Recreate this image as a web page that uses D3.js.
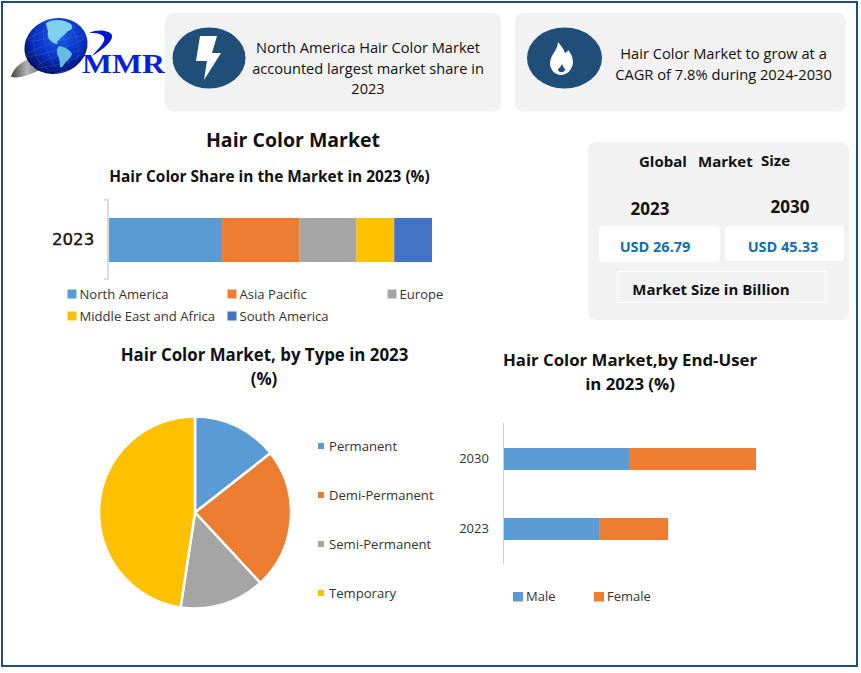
<!DOCTYPE html>
<html><head><meta charset="utf-8">
<script src="https://cdn.jsdelivr.net/npm/d3@7/dist/d3.min.js"></script>
<style>html,body{margin:0;padding:0;background:#fff}svg{display:block}text{font-family:"Open Sans",sans-serif;fill:#111}</style>
</head><body><div id="c"></div>
<script>
const shareYear = ["2023"];
const shareRegions = ["North America","Asia Pacific","Europe","Middle East and Africa","South America"];
const shareValues = [35,24,17.6,11.7,11.7];
const shareColors = ["#5b9bd5","#ed7d31","#a5a5a5","#ffc000","#4472c4"];
const typeNames = ["Permanent","Demi-Permanent","Semi-Permanent","Temporary"];
const typeValues = [14.4,23.7,14.3,47.6];
const typeColors = ["#5b9bd5","#ed7d31","#a5a5a5","#ffc000"];
const endYears = ["2030","2023"];
const endMale = [25,19.2];
const endFemale = [25.3,13.6];
const endSeries = ["Male","Female"];
const endColors = ["#5b9bd5","#ed7d31"];

const svg = d3.select("#c").append("svg").attr("width",861).attr("height",673);
const T=(x,y,s,size,o={})=>svg.append("text").attr("x",x).attr("y",y).text(s)
  .attr("font-size",size).attr("text-anchor",o.a||"start").attr("font-weight",o.w||400)
  .style("fill",o.c||"#111").style("font-family",o.f||null);
const R=(x,y,w,h,f,r=0)=>svg.append("rect").attr("x",x).attr("y",y).attr("width",w).attr("height",h).attr("fill",f).attr("rx",r);

svg.append("rect").attr("x",2).attr("y",2).attr("width",855).attr("height",664).attr("fill","#fff").attr("stroke","#1f4e79").attr("stroke-width",2);

// logo
const defs=svg.append("defs");
const g=defs.append("radialGradient").attr("id","gl").attr("cx","0.6").attr("cy","0.35").attr("r","0.72");
g.append("stop").attr("offset","0").attr("stop-color","#1c5fe8");
g.append("stop").attr("offset","0.55").attr("stop-color","#0a2fc4");
g.append("stop").attr("offset","1").attr("stop-color","#020a40");
const sw=defs.append("linearGradient").attr("id","sw").attr("x1","0").attr("x2","1");
sw.append("stop").attr("offset","0").attr("stop-color","#444");
sw.append("stop").attr("offset","0.55").attr("stop-color","#b5b5b5");
sw.append("stop").attr("offset","1").attr("stop-color","#777");
svg.append("path").attr("d","M11 77 C13 68 22 61 33 57 C29 64 31 68 40 70 C31 74 20 79 11 77Z").attr("fill","url(#sw)");
svg.append("ellipse").attr("cx",56).attr("cy",46).attr("rx",32).attr("ry",27.5).attr("fill","url(#gl)").attr("transform","rotate(-18 56 46)");
const grid=svg.append("g").attr("fill","none").attr("stroke","#3f7be8").attr("stroke-width",0.5).attr("opacity",0.6);
[10,22].forEach(r=>grid.append("ellipse").attr("cx",56).attr("cy",46).attr("rx",r).attr("ry",27).attr("transform","rotate(-18 56 46)"));
[-14,0,14].forEach(d=>grid.append("ellipse").attr("cx",56).attr("cy",46+d).attr("rx",31-Math.abs(d)/2).attr("ry",4).attr("transform","rotate(-18 56 46)"));
svg.append("path").attr("d","M46 23 C52 19 64 19 71 24 C73 27 72 30 68 31 C65 35 62 36 60 39 C58 41 56 41 58 44 C55 44 53 43 51 41 C48 39 47 35 48 31 C47 28 46 26 46 23Z").attr("fill","#7fd0ea");
svg.append("path").attr("d","M59 46 C64 46 70 50 72 54 C71 58 67 60 65 63 C63 66 62 68 60 69 C60 64 60 60 58 56 C56 52 57 48 59 46Z").attr("fill","#63bde0");
svg.append("path").attr("d","M36 68 C52 72 72 66 84 54 C76 68 55 78 36 68Z").attr("fill","#0a1c96");
svg.append("path").attr("d","M89 33 C97 29 109 30 112 35 C113 42 103 49 92 56 C99 48 106 42 104 37 C101 33 95 33 89 33Z").attr("fill","#0018d0");
T(82,72.5,"MMR",27,{f:"'Liberation Serif',serif",w:700,c:"#0a1fd8"}).attr("textLength",83).attr("lengthAdjust","spacingAndGlyphs");

// top panels
R(165,13,336,98.5,"#f2f2f2",8);
R(515,13,331,98.5,"#f2f2f2",8);
svg.append("ellipse").attr("cx",209).attr("cy",58).attr("rx",36.5).attr("ry",30.5).attr("fill","#1f4e79");
svg.append("ellipse").attr("cx",564.5).attr("cy",58).attr("rx",37.5).attr("ry",30.5).attr("fill","#1f4e79");
svg.append("path").attr("d","M200 36 L217 36 L212 53 L221 53 L204 80 L207 61 L196 61Z").attr("fill","#fff");
svg.append("path").attr("d","M558 42 C561 46 564 49 565 53 C567 52 568 51 568 50 C572 54 573 59 573 63 C572 70 567 75 561 75 C555 75 550 70 550 63 C550 55 558 50 558 42Z").attr("fill","#fff");
svg.append("path").attr("d","M562 64 C563 67 565 68 565 70 C564 73 559 73 558 70 C558 68 561 67 562 64Z").attr("fill","#1f4e79");

[["North America Hair Color Market",53],["accounted largest market share in",74],["2023",94]].forEach(d=>T(368,d[1],d[0],14.6,{a:"middle"}));
[["Hair Color Market to grow at a",59],["CAGR of 7.8% during 2024-2030",80]].forEach(d=>T(723.5,d[1],d[0],14.7,{a:"middle"}));

// titles
T(293,147,"Hair Color Market",19.5,{a:"middle",w:700});
T(269.5,182,"Hair Color Share in the Market in 2023 (%)",15.4,{a:"middle",w:700});

// share stacked bar
const xShare=d3.scaleLinear().domain([0,d3.sum(shareValues)]).range([109,432]);
const yShare=d3.scaleBand().domain(shareYear).range([218,262]);
let cum=0;
const shareStack=shareValues.map((v,i)=>{const s={v,i,x0:cum,x1:cum+v};cum+=v;return s;});
svg.append("g").selectAll("rect").data(shareStack).join("rect")
 .attr("x",d=>xShare(d.x0)).attr("width",d=>xShare(d.x1)-xShare(d.x0))
 .attr("y",yShare("2023")).attr("height",yShare.bandwidth()).attr("fill",d=>shareColors[d.i]);
svg.append("path").attr("d","M104 200H108V279H104").attr("fill","none").attr("stroke","#d0d0d0").attr("stroke-width",1.5);
T(52,245,"2023",16.6,{f:"'DejaVu Sans',sans-serif"}).style("stroke","#111").style("stroke-width",0.35);
const shareLeg=[[67.5,294],[227.5,294],[387.5,294],[67.5,316],[227.5,316]];
svg.append("g").selectAll("g").data(shareRegions).join("g").each(function(d,i){
  const s=d3.select(this),p=shareLeg[i];
  s.append("rect").attr("x",p[0]).attr("y",p[1]-4.5).attr("width",9).attr("height",9).attr("fill",shareColors[i]);
  s.append("text").attr("x",p[0]+12).attr("y",p[1]+5).attr("font-size",13.1).text(d).style("fill","#333");
});

// market size panel
R(588,142,261,178,"#f2f2f2",8);
R(599,226,121,36,"#fff",4);
R(725,226,119,35,"#fff",4);
svg.append("rect").attr("x",618).attr("y",271.5).attr("width",208).attr("height",31).attr("fill","none").attr("stroke","#fff");
T(639,167,"Global",15,{w:700});
T(698,167,"Market",15,{w:700});
T(761,166,"Size",15,{w:700});
T(650,215,"2023",17,{a:"middle",w:700});
T(790,213,"2030",17,{a:"middle",w:700});
T(655,252,"USD 26.79",14.5,{a:"middle",w:700,c:"#0f6fb5"});
T(783,252,"USD 45.33",14.5,{a:"middle",w:700,c:"#0f6fb5"});
T(711,295,"Market Size in Billion",15,{a:"middle",w:700});

// pie
T(264.5,361,"Hair Color Market, by Type in 2023",16.85,{a:"middle",w:700});
T(264,385,"(%)",16.85,{a:"middle",w:700});
const pie=d3.pie().sort(null)(typeValues);
const arc=d3.arc().innerRadius(0).outerRadius(96);
svg.append("g").attr("transform","translate(195,512.5)").selectAll("path").data(pie).join("path")
 .attr("d",arc).attr("fill",(d,i)=>typeColors[i]).attr("stroke","#fff").attr("stroke-width",2.5);
const typeY=d3.scalePoint().domain(typeNames).range([446,593]);
svg.append("g").selectAll("g").data(typeNames).join("g").each(function(d,i){
  const s=d3.select(this),y=typeY(d);
  s.append("rect").attr("x",318).attr("y",y-3).attr("width",6).attr("height",6).attr("fill",typeColors[i]);
  s.append("text").attr("x",329).attr("y",y+4.5).attr("font-size",13.1).text(d).style("fill","#333");
});

// end-user
T(630,366,"Hair Color Market,by End-User",16.8,{a:"middle",w:700});
T(630,390,"in 2023 (%)",16.8,{a:"middle",w:700});
const xEnd=d3.scaleLinear().domain([0,50.3]).range([503.5,756]);
const yEnd=d3.scaleBand().domain(endYears).range([423.5,564.5]).paddingInner(0.686).paddingOuter(0.35);
const rows=endYears.map((y,i)=>({y,m:endMale[i],f:endFemale[i]}));
const eg=svg.append("g");
eg.selectAll("rect.m").data(rows).join("rect").attr("class","m").attr("x",xEnd(0)).attr("y",d=>yEnd(d.y)).attr("height",yEnd.bandwidth())
 .attr("width",d=>xEnd(d.m)-xEnd(0)).attr("fill",endColors[0]);
eg.selectAll("rect.f").data(rows).join("rect").attr("class","f").attr("x",d=>xEnd(d.m)).attr("y",d=>yEnd(d.y)).attr("height",yEnd.bandwidth())
 .attr("width",d=>xEnd(d.m+d.f)-xEnd(d.m)).attr("fill",endColors[1]);
svg.append("line").attr("x1",503.5).attr("x2",503.5).attr("y1",423).attr("y2",564).attr("stroke","#d0d0d0");
endYears.forEach(y=>T(474,yEnd(y)+yEnd.bandwidth()/2+4,y,13,{a:"middle"}).style("fill","#333"));
const endLeg=[513,594];
endSeries.forEach((d,i)=>{
  R(endLeg[i],592,10,9.5,endColors[i]);
  T(endLeg[i]+13,600.5,d,13).style("fill","#333");
});
</script></body></html>
